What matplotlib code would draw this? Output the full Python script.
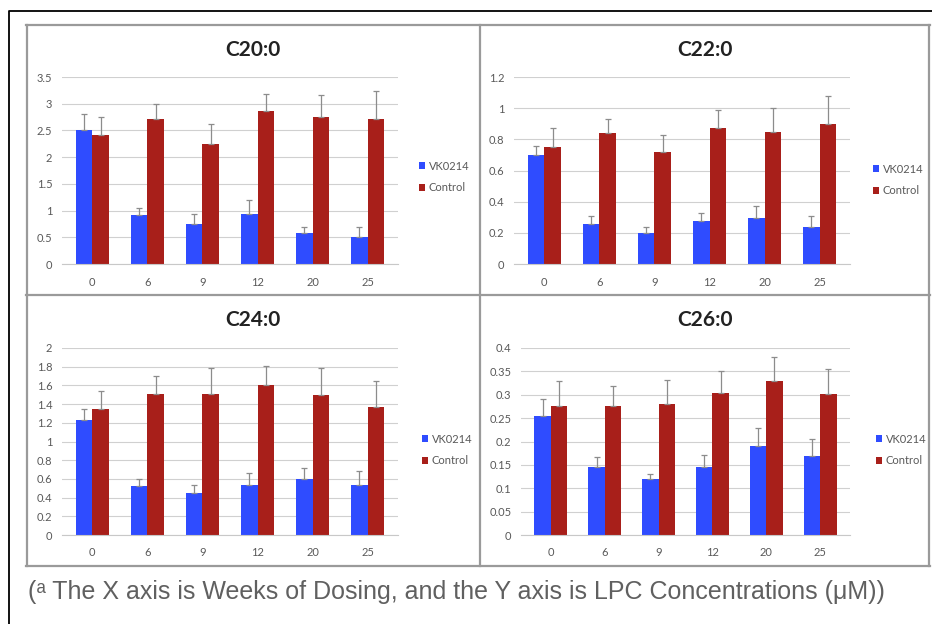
import numpy as np
import matplotlib
matplotlib.use('Agg')
import matplotlib.pyplot as plt
from matplotlib.lines import Line2D
from matplotlib import font_manager

# データ
weeks = ['0', '6', '9', '12', '20', '25']
series_names = ['VK0214', 'Control']

c20_vk = [2.51, 0.91, 0.74, 0.93, 0.58, 0.50]
c20_vk_err = [0.30, 0.13, 0.19, 0.26, 0.11, 0.20]
c20_ctrl = [2.42, 2.71, 2.24, 2.87, 2.75, 2.71]
c20_ctrl_err = [0.34, 0.28, 0.38, 0.31, 0.41, 0.53]

c22_vk = [0.70, 0.257, 0.20, 0.274, 0.293, 0.237]
c22_vk_err = [0.06, 0.05, 0.037, 0.056, 0.077, 0.069]
c22_ctrl = [0.75, 0.84, 0.72, 0.87, 0.847, 0.90]
c22_ctrl_err = [0.12, 0.09, 0.106, 0.12, 0.153, 0.176]

c24_vk = [1.23, 0.52, 0.45, 0.54, 0.60, 0.53]
c24_vk_err = [0.12, 0.08, 0.08, 0.12, 0.12, 0.15]
c24_ctrl = [1.35, 1.51, 1.51, 1.60, 1.50, 1.37]
c24_ctrl_err = [0.19, 0.19, 0.28, 0.21, 0.29, 0.28]

c26_vk = [0.255, 0.145, 0.120, 0.145, 0.191, 0.168]
c26_vk_err = [0.036, 0.021, 0.011, 0.026, 0.038, 0.037]
c26_ctrl = [0.276, 0.276, 0.280, 0.303, 0.330, 0.301]
c26_ctrl_err = [0.053, 0.042, 0.052, 0.047, 0.050, 0.054]

panels = [
    ('C20:0', c20_vk, c20_vk_err, c20_ctrl, c20_ctrl_err, 3.5, 0.5, [62, 360, 336, 187], 253, 50, 413, 177),
    ('C22:0', c22_vk, c22_vk_err, c22_ctrl, c22_ctrl_err, 1.2, 0.2, [514, 360, 336, 187], 705, 50, 867, 180),
    ('C24:0', c24_vk, c24_vk_err, c24_ctrl, c24_ctrl_err, 2.0, 0.2, [62, 89, 336, 187], 253, 320, 416, 450),
    ('C26:0', c26_vk, c26_vk_err, c26_ctrl, c26_ctrl_err, 0.4, 0.05, [521, 89, 329, 187], 705, 320, 870, 450),
]

caption = '(\u1d43 The X axis is Weeks of Dosing, and the Y axis is LPC Concentrations (\u03bcM))'

blue = '#2f4cff'
red = '#a81f1a'
W, H = 932, 624

names = {f.name for f in font_manager.fontManager.ttflist}
base_font = 'Lato' if 'Lato' in names else 'DejaVu Sans'
cap_font = ['Liberation Sans', 'DejaVu Sans']
plt.rcParams['font.family'] = [base_font, 'DejaVu Sans']

fig = plt.figure(figsize=(W / 100, H / 100), dpi=100)
fig.patch.set_facecolor('white')

x = np.arange(len(weeks))
bw = 0.3

for title, vk, vk_err, ctrl, ctrl_err, ymax, step, box, tx, ty, lx, ly in panels:
    ax = fig.add_axes([box[0] / W, box[1] / H, box[2] / W, box[3] / H])
    ax.bar(x - bw / 2, vk, bw, color=blue, label=series_names[0], zorder=2)
    ax.bar(x + bw / 2, ctrl, bw, color=red, label=series_names[1], zorder=2)
    ax.errorbar(x - bw / 2, vk, yerr=[np.zeros(len(vk)), vk_err], fmt='none',
                ecolor='#8c8c8c', elinewidth=0.9, capsize=2, capthick=0.9, zorder=3)
    ax.errorbar(x + bw / 2, ctrl, yerr=[np.zeros(len(ctrl)), ctrl_err], fmt='none',
                ecolor='#8c8c8c', elinewidth=0.9, capsize=2, capthick=0.9, zorder=3)
    ax.set_xlim(-0.55, 5.55)
    ax.set_ylim(0, ymax)
    ticks = np.round(np.arange(0, ymax + step / 2, step), 3)
    ax.set_yticks(ticks)
    ax.set_yticklabels(['%g' % t for t in ticks])
    ax.set_xticks(x)
    ax.set_xticklabels(weeks)
    ax.grid(axis='y', color='#d0d0d0', lw=0.8, zorder=0)
    ax.set_axisbelow(True)
    for s in ['top', 'right', 'left']:
        ax.spines[s].set_visible(False)
    ax.spines['bottom'].set_color('#c8c8c8')
    ax.tick_params(length=0, labelsize=8, colors='#595959')
    ax.tick_params(axis='y', pad=7)
    ax.tick_params(axis='x', pad=9)
    fig.text(tx / W, 1 - ty / H, title, ha='center', va='center',
             fontsize=15, fontweight='bold', color='#222222')
    ax.legend(loc='center left', bbox_to_anchor=(lx / W, 1 - ly / H),
              bbox_transform=fig.transFigure, frameon=False, fontsize=8,
              handlelength=0.6, handleheight=0.6, handletextpad=0.3,
              labelspacing=0.95, borderpad=0, labelcolor='#595959')

# 枠線
gray = '#9a9a9a'
lines = [
    ([26, 930], [25, 25]), ([26, 930], [566, 566]),
    ([27, 27], [25, 566]), ([929, 929], [25, 566]),
    ([480, 480], [25, 566]), ([26, 930], [295, 295]),
]
for xs, ys in lines:
    fig.add_artist(Line2D([v / W for v in xs], [1 - v / H for v in ys],
                          color=gray, lw=1.6, transform=fig.transFigure))
fig.add_artist(Line2D([9 / W, 9 / W, 1], [0, 1 - 11 / H, 1 - 11 / H],
                      color='black', lw=1.3, transform=fig.transFigure))

fig.text(28 / W, 1 - 592 / H, caption, ha='left', va='center', fontsize=18,
         color='#606060', family=cap_font)

plt.savefig('out.png', dpi=100)
plt.close()
